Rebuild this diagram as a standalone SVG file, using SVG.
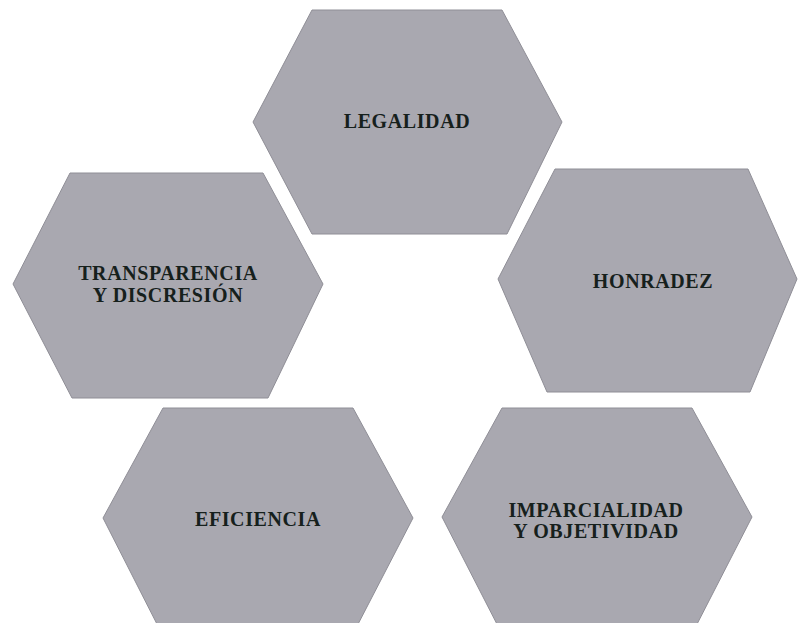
<svg xmlns="http://www.w3.org/2000/svg" width="798" height="623" viewBox="0 0 798 623">
<style>
.hex{fill:#a9a8b0;stroke:#8f8e96;stroke-width:1}
.lbl{font-family:"Liberation Serif","DejaVu Serif",serif;font-weight:bold;font-size:20px;letter-spacing:0.6px;fill:#16201c;text-anchor:middle}
</style>
<rect width="798" height="623" fill="#ffffff"/>
<g id="legalidad">
<polygon class="hex" points="312,10 502,10 562,122 507,234 312,234 253,122"/>
<text class="lbl" x="407" y="128">LEGALIDAD</text>
</g>
<g id="transparencia">
<polygon class="hex" points="70,173 263,173 323,284 268,398 72,398 13,284"/>
<text class="lbl" x="168" y="280">TRANSPARENCIA</text>
<text class="lbl" x="168" y="302">Y DISCRESIÓN</text>
</g>
<g id="honradez">
<polygon class="hex" points="555,169 748,169 797,279 750,392 547,392 498,279"/>
<text class="lbl" x="653" y="288">HONRADEZ</text>
</g>
<g id="eficiencia">
<polygon class="hex" points="163,408 353,408 413,518 355,630 160,630 103,518"/>
<text class="lbl" x="258" y="526">EFICIENCIA</text>
</g>
<g id="imparcialidad">
<polygon class="hex" points="502,408 692,408 752,517 694,630 500,630 442,517"/>
<text class="lbl" x="596" y="517">IMPARCIALIDAD</text>
<text class="lbl" x="596" y="538">Y OBJETIVIDAD</text>
</g>
<g id="connectors"></g>
</svg>
